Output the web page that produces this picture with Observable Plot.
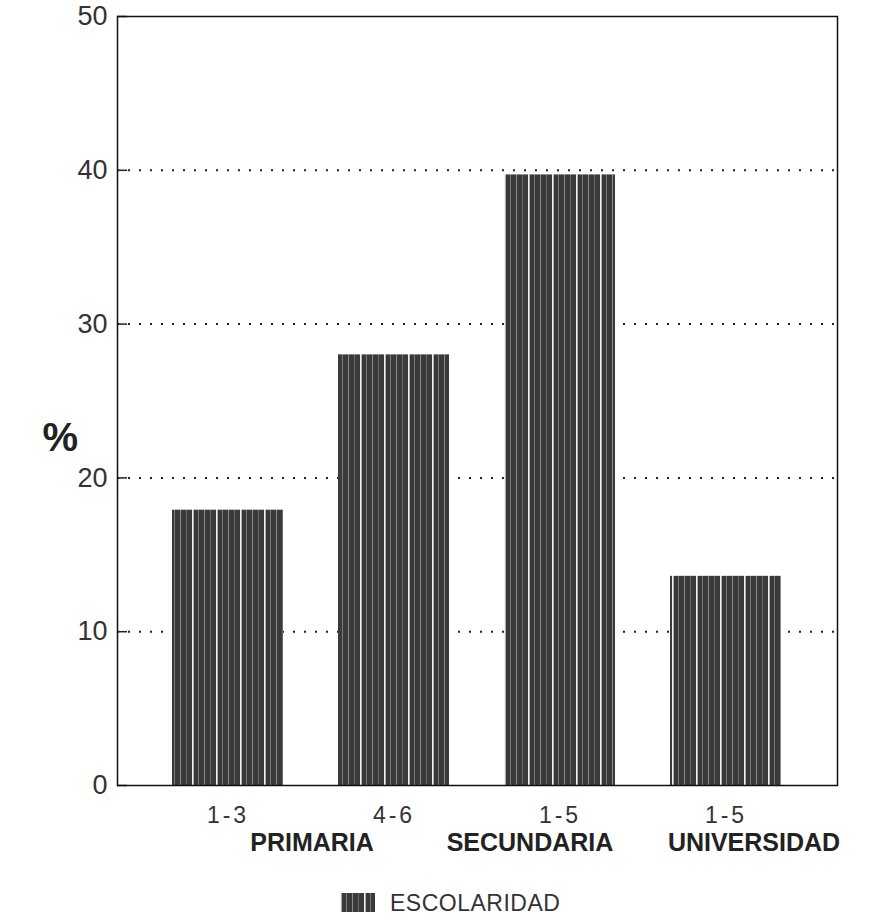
<!DOCTYPE html>
<html><head><meta charset="utf-8">
<script src="https://cdn.jsdelivr.net/npm/d3@7"></script>
<script src="https://cdn.jsdelivr.net/npm/@observablehq/plot@0.6"></script>
<style>
body{margin:0;background:#fff;font-family:"Liberation Sans",Arial,sans-serif}
#legend{position:relative;width:880px;height:51px}
#legend svg{position:absolute;left:340px;top:23px}
#legend span{position:absolute;left:390px;top:20px;font-size:23px;color:#333;font-weight:300;letter-spacing:0.5px}
svg g[aria-label="x-axis tick label"]{letter-spacing:3px}
</style>
</head><body>
<div id="chart"></div>
<div id="legend"></div>
<script>
// ---- data ----
const keys = ["p13", "p46", "s15", "u15"];
const tickLabels = ["1-3", "4-6", "1-5", "1-5"];
const values = [17.9, 28, 39.7, 13.6];
const groupLabels = ["PRIMARIA", "SECUNDARIA", "UNIVERSIDAD"];
const groupAnchors = ["p13", "s15", "u15"];
const yTicks = [0, 10, 20, 30, 40, 50];
const gridTicks = [10, 20, 30, 40];
const seriesName = "ESCOLARIDAD";
const yLabel = "%";

// ---- build ----
const data = keys.map((k, i) => ({key: k, value: values[i]}));
const groupDx = [84, -30, 28];
const fmt = d => tickLabels[keys.indexOf(d)];

const groupMarks = groupLabels.map((g, i) =>
  Plot.text([{label: g, key: groupAnchors[i]}], {x: "key", text: "label", frameAnchor: "bottom",
    dy: 57, dx: groupDx[i], fontSize: 25, fontWeight: "bold", fill: "#222", lineAnchor: "middle",
    style: "letter-spacing:0.6px"}));

const svg = Plot.plot({
  width: 880, height: 870,
  marginTop: 16, marginBottom: 85, marginLeft: 117, marginRight: 43,
  style: {fontFamily: "Liberation Sans, Arial, sans-serif", background: "white", color: "#222"},
  x: {domain: keys, padding: 0.33, label: null},
  y: {domain: [0, 50], label: null},
  marks: [
    Plot.gridY(gridTicks, {stroke: "#222", strokeOpacity: 1, strokeWidth: 2, strokeDasharray: "2,9"}),
    Plot.barY(data, {x: "key", y: "value", fill: "url(#barTex)"}),
    Plot.axisY({ticks: yTicks, tickSize: -10, tickPadding: 20, fontSize: 27, stroke: "#222", strokeWidth: 1.5, fill: "#333"}),
    Plot.axisX({tickSize: 0, tickPadding: 21, fontSize: 23, fill: "#333", tickFormat: fmt}),
    ...groupMarks,
    Plot.text([yLabel], {frameAnchor: "left", dx: -75, dy: 37, fontSize: 40, fontWeight: "bold", fill: "#222"}),
    Plot.frame({stroke: "#111", strokeWidth: 1.5})
  ]
});

svg.insertAdjacentHTML("afterbegin", `<defs>
<pattern id="barTex" patternUnits="userSpaceOnUse" width="24" height="4">
<rect width="24" height="4" fill="#3a3a3a"/>
<rect x="0" width="1.6" height="4" fill="#f4f4f4"/>
<rect x="6" width="1" height="4" fill="#7a7a7a"/>
<rect x="12" width="1" height="4" fill="#8c8c8c"/>
<rect x="18" width="1" height="4" fill="#6a6a6a"/>
</pattern></defs>`);

document.getElementById("chart").appendChild(svg);
document.getElementById("legend").innerHTML =
  `<svg width="35" height="19"><rect width="35" height="19" fill="url(#barTex)"/></svg><span>${seriesName}</span>`;
</script>
</body></html>
